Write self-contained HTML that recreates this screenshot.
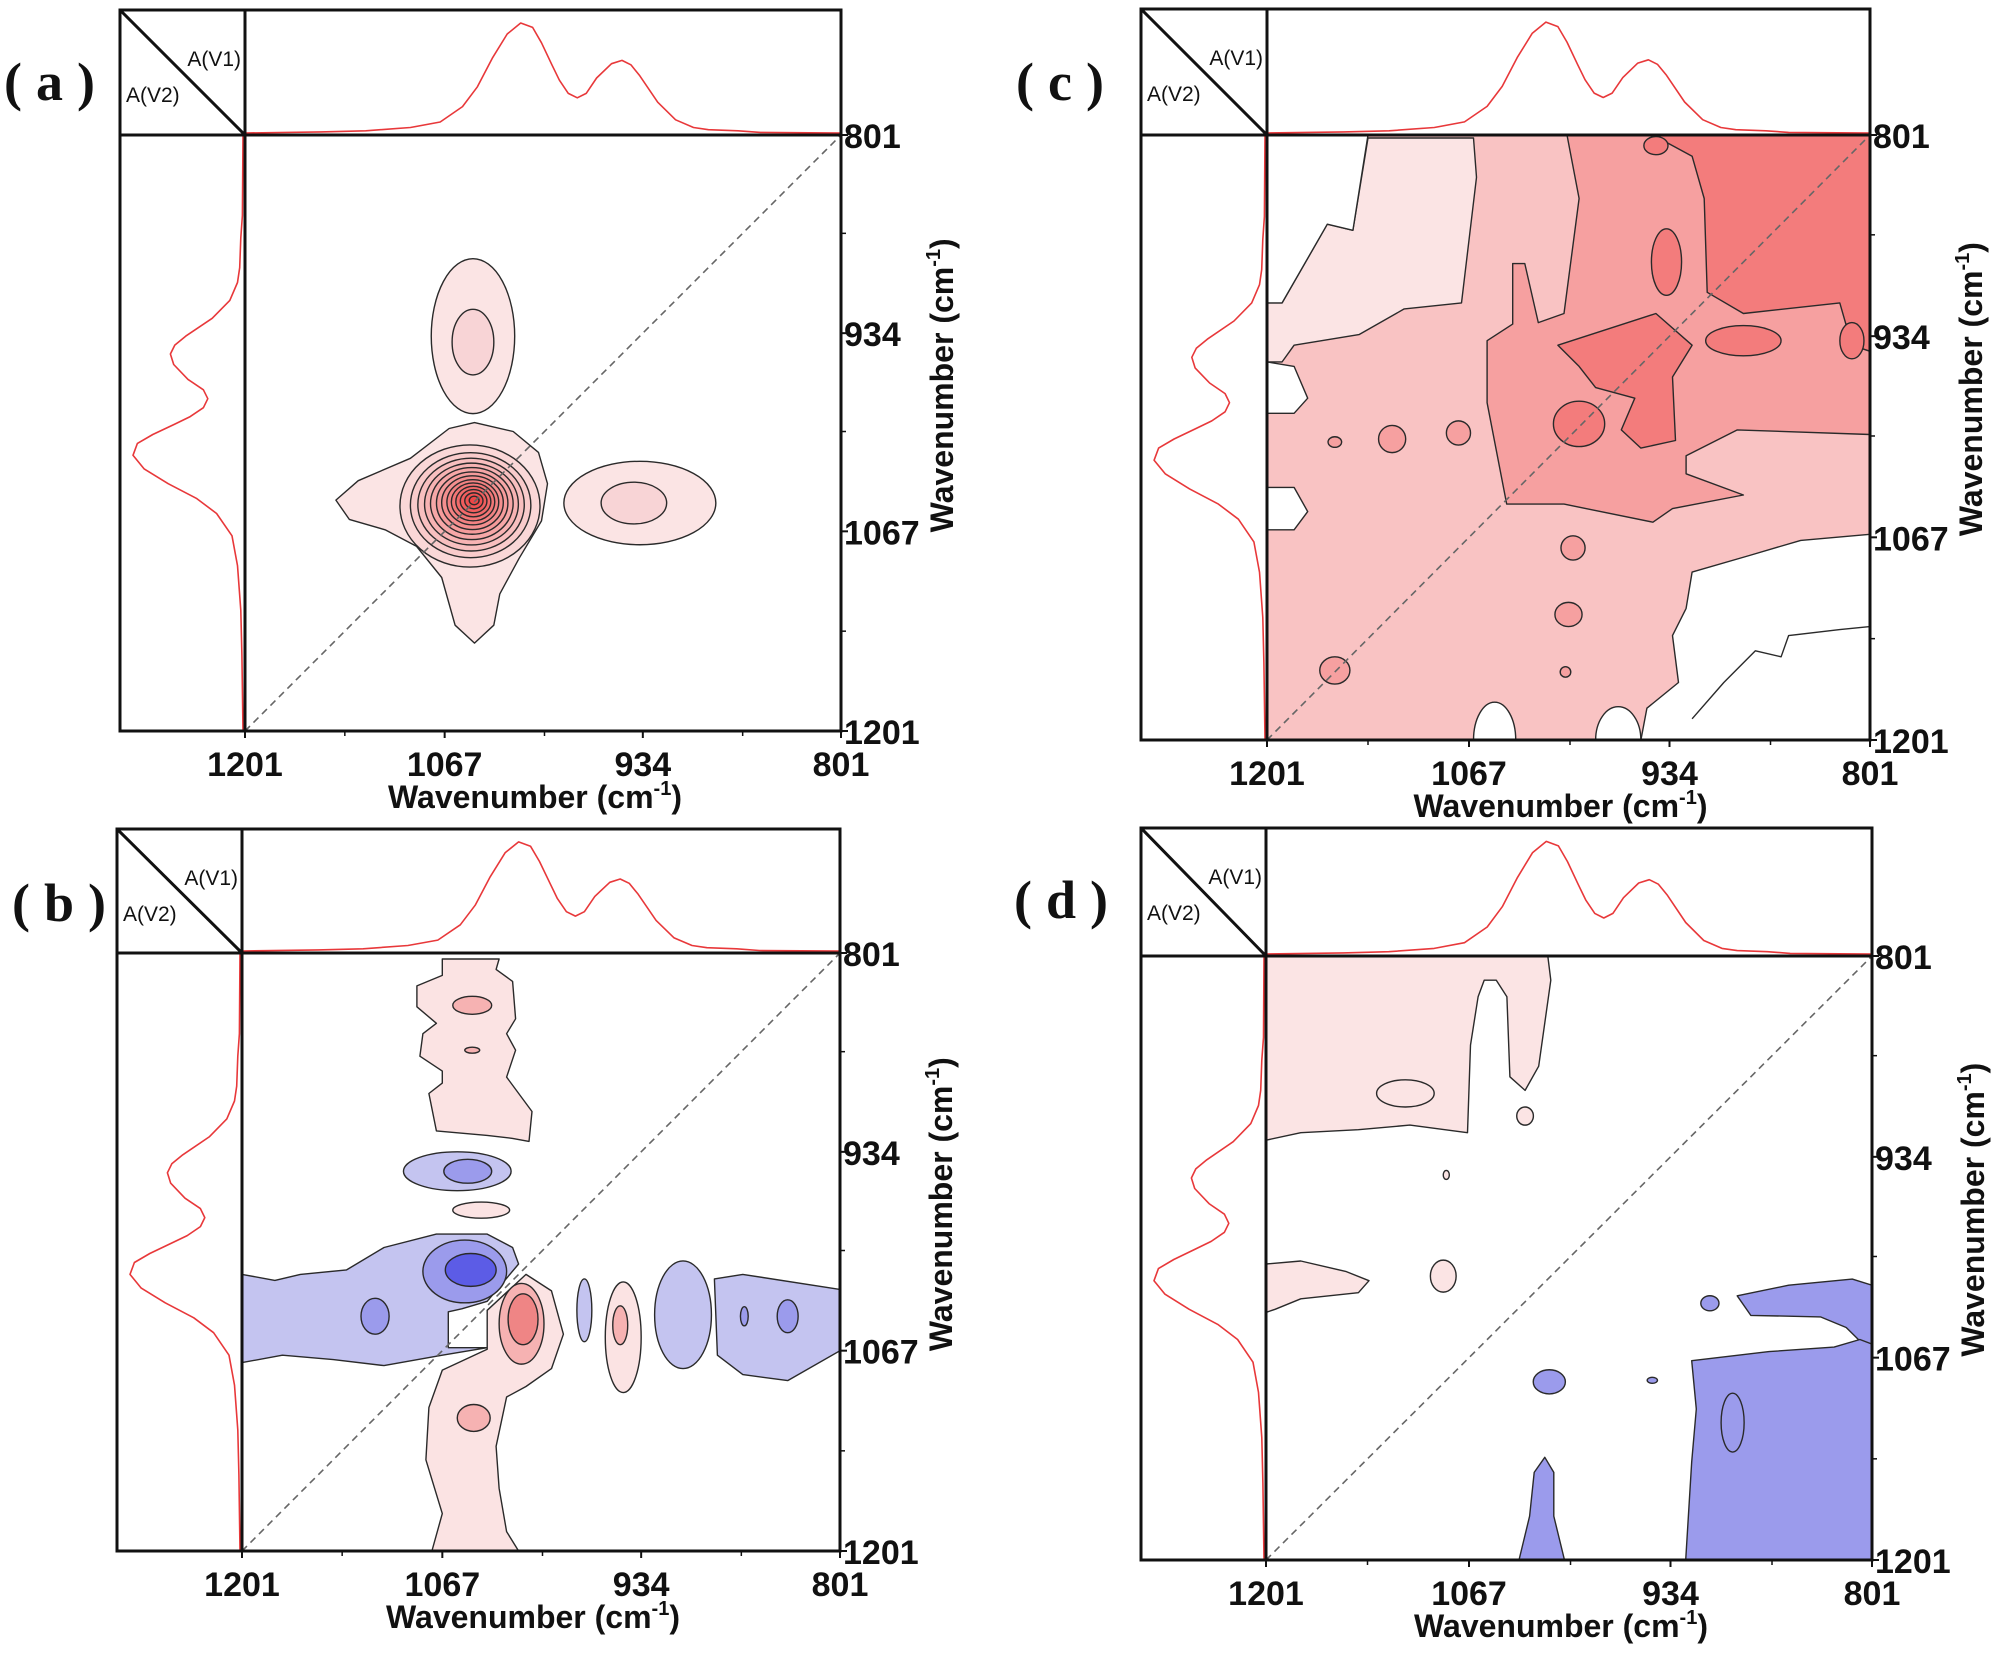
<!DOCTYPE html>
<html><head><meta charset="utf-8"><style>
html,body{margin:0;padding:0;background:#fff;}
svg{display:block;}
</style></head><body>
<svg id="fig" xmlns="http://www.w3.org/2000/svg" width="2000" height="1654" viewBox="0 0 2000 1654"></svg>
<script>
// ---- shared spectrum data ----
const specWn  = [1201,1150,1120,1090,1070,1055,1045,1035,1025,1016,1008,1002,995,990,984,978,972,965,955,948,942,936,924,912,900,890,870,855,801];
const specAbs = [0,0.01,0.02,0.05,0.1,0.24,0.42,0.68,0.9,1.0,0.96,0.82,0.62,0.48,0.36,0.32,0.36,0.5,0.63,0.66,0.62,0.52,0.28,0.12,0.05,0.03,0.02,0.005,0];
const xTicks = [1201,1067,934,801];
const xMinor = [1134,1000,867];

// ---- panel (a) ----
const aOuter = [[1140,1046],[1125,1033],[1090,1018],[1064,998],[1047,994],[1021,1000],[1004,1014],[998,1035],[1002,1060],[1017,1085],[1030,1109],[1034,1130],[1047,1142],[1060,1130],[1069,1098],[1086,1077],[1107,1066],[1131,1059]];
const aRingScale = [1,0.86,0.76,0.67,0.59,0.51,0.44,0.37,0.31,0.25,0.19,0.13,0.07];
const aRingCenter = [1050,1050,47,41];
const aCross = [
 ['e','p1',1048,936,28,52],['e','p2',1048,940,14,22],
 ['e','p1',936,1048,51,28],['e','p2',940,1048,22,14]
];

// ---- panel (b) ----
const bShapes = [
 ['p','p1',[[1067,805],[1029,805],[1031,812],[1020,820],[1018,845],[1024,855],[1018,866],[1024,884],[1007,907],[1009,927],[1020,925],[1037,923],[1071,920],[1076,895],[1067,888],[1067,880],[1082,870],[1080,855],[1071,848],[1084,837],[1084,823],[1067,816]]],
 ['e','p2',1047,836,13,6],['e','p2',1047,866,5,2],
 ['e','n1',1057,947,36,13],['e','n2',1050,947,16,8],
 ['e','p1',1041,973,19,5.4],
 ['p','n1',[[1201,1016],[1179,1020],[1162,1016],[1131,1013],[1106,998],[1071,989],[1037,989],[1020,998],[1016,1009],[1037,1034],[1054,1039],[1063,1041],[1063,1065],[1037,1065],[1067,1070],[1106,1077],[1140,1073],[1174,1070],[1201,1075]]],
 ['e','n2',1052,1014,28,21],['e','n3',1048,1013,17,11],
 ['e','n2',1112,1044,9.4,12],
 ['e','n1',972,1040,5,21],
 ['e','n1',906,1043,19,36],
 ['p','n1',[[885,1019],[866,1016],[801,1026],[801,1067],[836,1087],[866,1083],[883,1070]]],
 ['e','n2',865,1044,2.6,6.4],['e','n2',836,1044,7,11],
 ['p','p1',[[1011,1016],[994,1027],[986,1056],[994,1079],[1011,1091],[1024,1098],[1031,1131],[1029,1159],[1024,1188],[1016,1201],[1074,1201],[1067,1176],[1078,1140],[1076,1105],[1067,1080],[1037,1066],[1037,1040]]],
 ['e','p2',1014,1049,15,27],['e','p3',1013,1046,10,17],
 ['e','p1',946,1058,12,37],['e','p2',948,1050,5,13],
 ['e','p2',1046,1112,11,9]
];

// ---- panel (c) ----
const cShapes = [
 ['p','p2',[[1201,801],[801,801],[801,1201],[1201,1201]]],
 ['p','p1',[[1201,912],[1191,912],[1161,860],[1144,864],[1134,803],[1064,803],[1062,829],[1072,912],[1110,916],[1140,933],[1183,940],[1191,951],[1201,951]]],
 ['p','w',[[1201,801],[1134,801],[1144,864],[1161,860],[1191,912],[1201,912]]],
 ['p','w',[[1201,951],[1183,954],[1174,975],[1183,985],[1201,985]]],
 ['p','w',[[1201,1034],[1183,1034],[1174,1050],[1183,1062],[1201,1062]]],
 ['p','p3',[[1002,801],[994,843],[1004,919],[1021,925],[1030,886],[1038,886],[1038,926],[1055,937],[1055,978],[1042,1045],[1004,1045],[945,1057],[932,1048],[885,1039],[923,1025],[923,1013],[889,996],[801,999],[801,801]]],
 ['p','p4',[[945,801],[919,815],[911,843],[909,905],[885,919],[821,912],[813,940],[801,944],[801,801]]],
 ['e','p4',943,808,8,6],
 ['e','p4',936,885,10,22],
 ['p','p4',[[1008,940],[943,919],[919,940],[932,961],[930,1003],[953,1008],[966,996],[957,975],[983,968],[994,954]]],
 ['e','p4',885,937,25,10],
 ['e','p4',994,992,17,15],
 ['e','p4',813,937,8,12],
 ['e','p3',1156,1004,4.5,3.5],['e','p3',1118,1002,9,9],['e','p3',1074,998,8,8],
 ['e','p3',998,1074,8,8],['e','p3',1001,1118,9,8],['e','p3',1003,1156,3.5,3.5],['e','p3',1156,1155,10,9],
 ['p','w',[[801,1065],[847,1069],[881,1079],[919,1090],[923,1114],[932,1132],[928,1163],[949,1180],[953,1201],[801,1201]]],
 ['e','w',1050,1201,14,25],['e','w',968,1201,15,22],
 ['l','o',[[919,1187],[898,1163],[877,1142],[860,1146],[855,1132],[821,1128],[801,1126]]]
];

// ---- panel (d) ----
const dShapes = [
 ['p','p1',[[1201,801],[1015,801],[1013,817],[1021,874],[1030,890],[1040,881],[1042,828],[1049,817],[1057,817],[1061,828],[1066,860],[1068,918],[1106,913],[1140,916],[1178,918],[1201,923]]],
 ['e','p1',1109,892,19,9],['e','p1',1030,907,5.5,6],['e','p1',1082,946,2,3],
 ['p','p1',[[1201,1005],[1178,1003],[1148,1010],[1133,1016],[1140,1024],[1178,1028],[1195,1035],[1201,1037]]],
 ['e','p1',1084,1013,8.5,10.6],
 ['p','n2',[[890,1026],[856,1019],[814,1015],[801,1019],[801,1065],[809,1056],[818,1047],[835,1040],[881,1039]]],
 ['p','n2',[[920,1069],[869,1063],[826,1060],[809,1055],[801,1058],[801,1201],[924,1201],[920,1136],[917,1101]]],
 ['e','n2',893,1110,7.6,19.5],
 ['e','n2',908,1031,6,5],['e','n2',1014,1083,10.6,8],['e','n2',946,1082,3.4,2],
 ['p','n2',[[1017,1133],[1011,1143],[1011,1172],[1004,1201],[1034,1201],[1027,1172],[1024,1143]]]
];

const colors = {p1:'#fbe4e4',p2:'#f9c3c3',p3:'#f6a0a0',p4:'#f37c7c',n1:'#c4c4f0',n2:'#9b9bec',n3:'#5c5ce6',w:'#ffffff',o:'none'};
const bColors = {p1:'#fbe3e3',p2:'#f6b2b2',p3:'#ef8585'};

const panels = [
 {id:'a',label:'(a)',L:120,I:245,R:841,T:10,H:135,B:731,lx:4,ly:82},
 {id:'b',label:'(b)',L:117,I:242,R:840,T:829,H:953,B:1551,lx:12,ly:903},
 {id:'c',label:'(c)',L:1141,I:1267,R:1870,T:9,H:135,B:740,lx:1016,ly:82},
 {id:'d',label:'(d)',L:1141,I:1266,R:1872,T:828,H:956,B:1560,lx:1014,ly:900}
];

const NS='http://www.w3.org/2000/svg';
const svg=document.getElementById('fig');
function mk(tag,attrs,parent){const e=document.createElementNS(NS,tag);for(const k in attrs)e.setAttribute(k,attrs[k]);(parent||svg).appendChild(e);return e;}

function drawPanel(p,shapes,cmap){
 const g=mk('g',{});
 
 
 const W=p.R-p.I, Hh=p.B-p.H;
 const sx=v=>p.I+(1201-v)/400*W;
 const sy=v=>p.H+(v-801)/400*Hh;
 const clipId='clip'+p.id;
 const cp=mk('clipPath',{id:clipId},g); mk('rect',{x:p.I,y:p.H,width:W,height:Hh},cp);
 const plot=mk('g',{'clip-path':'url(#'+clipId+')'},g);
 
 
 const cm=Object.assign({},colors,cmap||{});
 shapes.forEach(s=>{
  let el;
  if(s[0]==='e'){
   el=mk('ellipse',{cx:sx(s[2]),cy:sy(s[3]),rx:s[4]/400*W,ry:s[5]/400*Hh,fill:cm[s[1]],stroke:'#2a2a2a','stroke-width':1.4},plot);
  } else {
   const d=s[2].map((q,i)=>(i?'L':'M')+sx(q[0]).toFixed(1)+' '+sy(q[1]).toFixed(1)).join(' ')+(s[0]==='p'?'Z':'');
   el=mk('path',{d:d,fill:s[0]==='l'?'none':cm[s[1]],stroke:'#2a2a2a','stroke-width':1.4,'stroke-linejoin':'round'},plot);
  }
  
  
 });
 return {g,plot,sx,sy,W,Hh};
}

function decorate(p,ctx){
 const {g,sx,sy,W,Hh}=ctx;
 const dg=mk('line',{x1:p.I,y1:p.B,x2:p.R,y2:p.H,stroke:'#666','stroke-width':1.6,'stroke-dasharray':'7 5'},g);
 
 
 const amp=0.88*(p.H-p.T);
 const top=specWn.map((w,i)=>(i?'L':'M')+sx(w).toFixed(1)+' '+(p.H-2-specAbs[i]*amp).toFixed(1)).join(' ');
 const ts=mk('path',{d:top,fill:'none',stroke:'#e8383a','stroke-width':1.6,'stroke-linejoin':'round'},g);
 
 
 const ampL=0.88*(p.I-p.L);
 const left=specWn.map((w,i)=>(i?'L':'M')+(p.I-2-specAbs[i]*ampL).toFixed(1)+' '+sy(w).toFixed(1)).join(' ');
 const ls=mk('path',{d:left,fill:'none',stroke:'#e8383a','stroke-width':1.6,'stroke-linejoin':'round'},g);
 
 
 const fr=mk('rect',{x:p.L,y:p.T,width:p.R-p.L,height:p.B-p.T,fill:'none',stroke:'#111','stroke-width':3},g);
 
 
 mk('line',{x1:p.I,y1:p.T,x2:p.I,y2:p.B,stroke:'#111','stroke-width':3},g);
 mk('line',{x1:p.L,y1:p.H,x2:p.R,y2:p.H,stroke:'#111','stroke-width':3},g);
 const cd=mk('line',{x1:p.L,y1:p.T,x2:p.I,y2:p.H,stroke:'#111','stroke-width':3},g);
 
 
 const t1=mk('text',{x:p.I-4,y:p.T+56,'text-anchor':'end','font-family':'Liberation Sans, sans-serif','font-size':21,fill:'#111'},g);
 t1.textContent='A(V1)';
 
 
 const t2=mk('text',{x:p.L+6,y:p.T+92,'font-family':'Liberation Sans, sans-serif','font-size':21,fill:'#111'},g);
 t2.textContent='A(V2)';
 
 
 xTicks.forEach(v=>{
  mk('line',{x1:sx(v),y1:p.B,x2:sx(v),y2:p.B+7,stroke:'#111','stroke-width':2},g);
  const t=mk('text',{x:sx(v),y:p.B+45,'text-anchor':'middle','font-family':'Liberation Sans, sans-serif','font-weight':'bold','font-size':34,fill:'#111'},g);
  t.textContent=v;
  
  
 });
 xMinor.forEach(v=>{
  mk('line',{x1:sx(v),y1:p.B,x2:sx(v),y2:p.B+5,stroke:'#111','stroke-width':1.5},g);
  mk('line',{x1:p.R,y1:sy(v),x2:p.R+5,y2:sy(v),stroke:'#111','stroke-width':1.5},g);
 });
 xTicks.forEach(v=>{
  mk('line',{x1:p.R,y1:sy(v),x2:p.R+7,y2:sy(v),stroke:'#111','stroke-width':2},g);
  const t=mk('text',{x:p.R+3,y:sy(v)+13,'font-family':'Liberation Sans, sans-serif','font-weight':'bold','font-size':34,fill:'#111'},g);
  t.textContent=v;
  
  
 });
 const xt=mk('text',{x:(p.I+p.R)/2-8,y:p.B+77,'text-anchor':'middle','font-family':'Liberation Sans, sans-serif','font-weight':'bold','font-size':32,fill:'#111'},g);
 xt.innerHTML='Wavenumber (cm<tspan font-size="20" dy="-13">-1</tspan><tspan dy="13">)</tspan>';
 
 
 const cx=p.R+112, cy=p.H+0.42*(p.B-p.H);
 const yt=mk('text',{x:cx,y:cy,'text-anchor':'middle','font-family':'Liberation Sans, sans-serif','font-weight':'bold','font-size':32,fill:'#111',transform:'rotate(-90 '+cx+' '+cy+')'},g);
 yt.innerHTML='Wavenumber (cm<tspan font-size="20" dy="-13">-1</tspan><tspan dy="13">)</tspan>';
 
 
 const pl=mk('text',{x:p.lx,y:p.ly+18,'font-family':'Liberation Serif, Noto Serif CJK SC, serif','font-weight':'bold','font-size':54,'letter-spacing':'14',fill:'#111'},g);
 pl.textContent=p.label;
 
 
}

(function(){
 const p=panels[0];
 const ctx=drawPanel(p,[],{});
 const o=aOuter.map((q,i)=>(i?'L':'M')+ctx.sx(q[0]).toFixed(1)+' '+ctx.sy(q[1]).toFixed(1)).join(' ')+'Z';
 const op=mk('path',{d:o,fill:'#fbe4e4',stroke:'#2a2a2a','stroke-width':1.4,'stroke-linejoin':'round'},ctx.plot);
 
 
 aRingScale.forEach((s,i)=>{
  const t=i/(aRingScale.length-1);
  const r=Math.round(250-(250-238)*t), gg=Math.round(215-(215-70)*t), b=Math.round(215-(215-70)*t);
  const cxv=aRingCenter[0], cyv=aRingCenter[1];
  const e=mk('ellipse',{cx:ctx.sx(cxv-3*(1-s)),cy:ctx.sy(cyv-4*(1-s)),rx:aRingCenter[2]*s/400*ctx.W,ry:aRingCenter[3]*s/400*ctx.Hh,fill:`rgb(${r},${gg},${b})`,stroke:'#2a2a2a','stroke-width':1.4},ctx.plot);
  
  
 });
 aCross.forEach(s=>{
  const e=mk('ellipse',{cx:ctx.sx(s[2]),cy:ctx.sy(s[3]),rx:s[4]/400*ctx.W,ry:s[5]/400*ctx.Hh,fill:s[1]==='p1'?'#fbe4e4':'#f8d4d6',stroke:'#2a2a2a','stroke-width':1.4},ctx.plot);
  
  
 });
 decorate(p,ctx);
})();
(function(){const p=panels[1];const ctx=drawPanel(p,bShapes,bColors);decorate(p,ctx);})();
(function(){const p=panels[2];const ctx=drawPanel(p,cShapes,{});decorate(p,ctx);})();
(function(){const p=panels[3];const ctx=drawPanel(p,dShapes,{});decorate(p,ctx);})();
</script>
</body></html>
